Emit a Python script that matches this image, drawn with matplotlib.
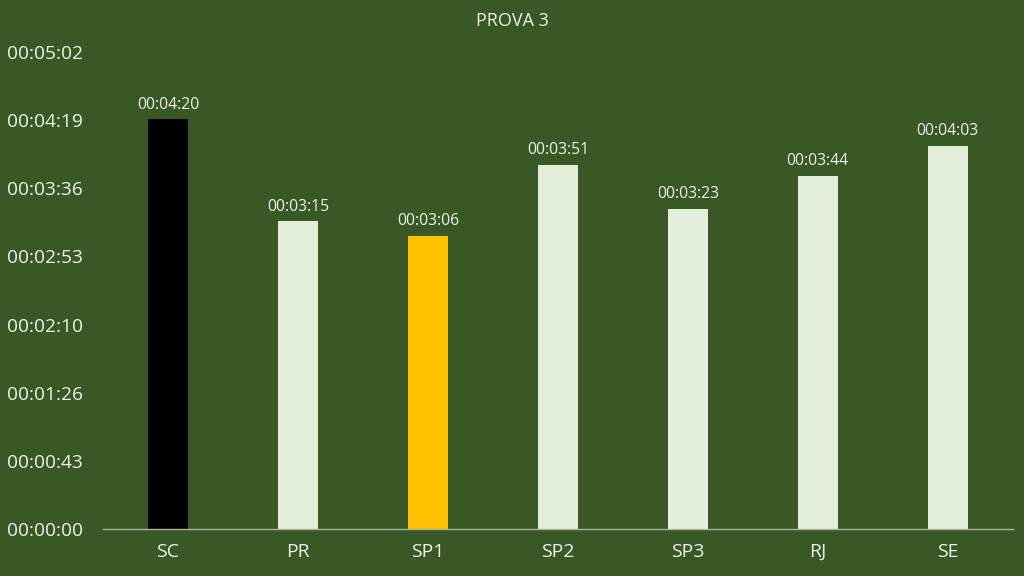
import matplotlib
matplotlib.use("Agg")
import matplotlib.pyplot as plt
from matplotlib.ticker import FuncFormatter

# data (seconds)
states = ["SC", "PR", "SP1", "SP2", "SP3", "RJ", "SE"]
times_s = [260, 195, 186, 231, 203, 224, 243]
bar_colors = ["#000000", "#E2EFDA", "#FFC000", "#E2EFDA", "#E2EFDA", "#E2EFDA", "#E2EFDA"]

# Excel-style ticks: multiples of 0.0005 day = 43.2 s
tick_step = 43.2
n_ticks = 8

bg = "#3A5726"
txt = "#EBF3E6"

plt.rcParams['font.family'] = ['Open Sans', 'DejaVu Sans']


def hms(v, pos=None):
    s = int(round(v))
    return "%02d:%02d:%02d" % (s // 3600, (s % 3600) // 60, s % 60)


fig = plt.figure(figsize=(10.24, 5.76), dpi=100, facecolor=bg)
ax = fig.add_axes([0.1006, 0.0816, 0.8884, 0.8281], facecolor=bg)

x = range(len(states))
bars = ax.bar(x, times_s, width=0.31, color=bar_colors)

for b, v in zip(bars, times_s):
    ax.text(b.get_x() + b.get_width() / 2, v + 4, hms(v), ha="center", va="bottom",
            color=txt, fontsize=11.3)

ax.set_xlim(-0.5, len(states) - 0.5)
ax.set_ylim(0, tick_step * (n_ticks - 1))
ax.set_yticks([tick_step * i for i in range(n_ticks)])
ax.yaxis.set_major_formatter(FuncFormatter(hms))
ax.set_xticks(list(x))
ax.set_xticklabels(states)

for side in ["top", "right", "left"]:
    ax.spines[side].set_visible(False)
ax.spines["bottom"].set_color("#A6B69A")
ax.spines["bottom"].set_linewidth(1)
ax.tick_params(axis="both", length=0, colors=txt)
ax.tick_params(axis="x", pad=10, labelsize=14)
ax.tick_params(axis="y", labelsize=13.8, pad=69)
for lbl in ax.get_yticklabels():
    lbl.set_horizontalalignment("left")

fig.text(0.5, 0.963, "PROVA 3", ha="center", va="center", color=txt, fontsize=13)

fig.savefig("out.png", dpi=100, facecolor=bg)
